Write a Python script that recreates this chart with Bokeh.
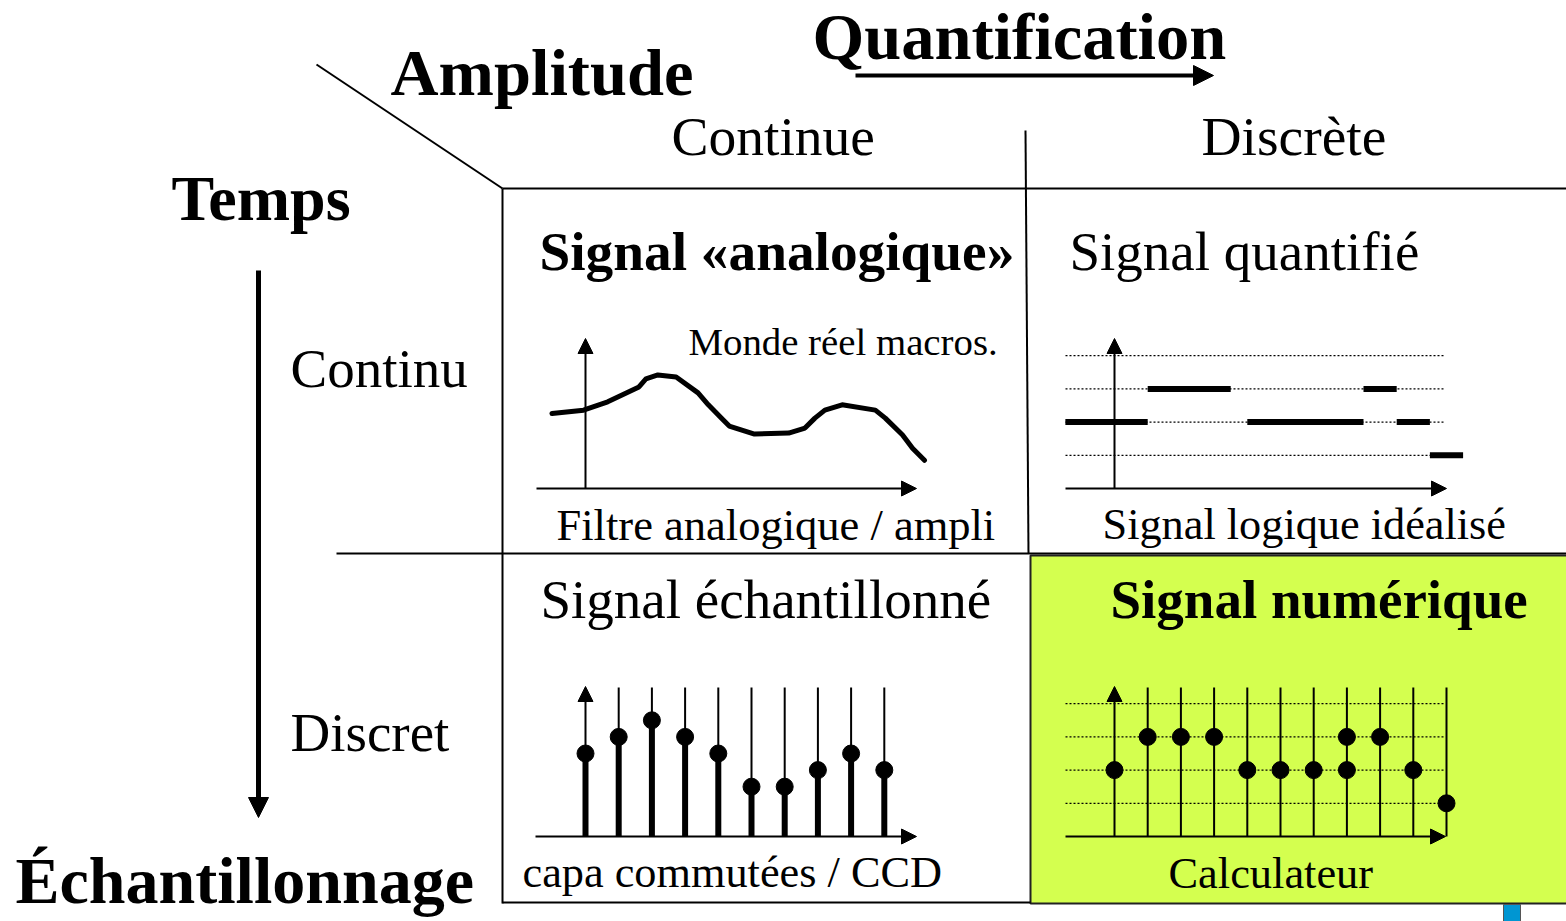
from bokeh.plotting import figure
from bokeh.models import Range1d, Arrow, NormalHead
from bokeh.core.properties import value
from bokeh.embed import file_html
from bokeh.resources import INLINE

# ---------------- data (panel-local units: 1 unit = one sample step) ----------------
# analog signal (continuous time, continuous amplitude)
analog_t = [-1.01, -0.06, 0.67, 1.61, 1.82, 2.18, 2.73, 3.39, 3.70, 4.09, 4.33, 5.09,
            6.12, 6.61, 6.91, 7.21, 7.73, 8.73, 9.03, 9.55, 9.85, 10.21]
analog_v = [2.26, 2.36, 2.61, 3.06, 3.30, 3.42, 3.36, 2.88, 2.52, 2.12, 1.88, 1.64,
            1.67, 1.82, 2.12, 2.36, 2.52, 2.36, 2.12, 1.61, 1.21, 0.85]

# quantified signal (continuous time, discrete amplitude)
quant_start = [-1.48, 1.0, 4.0, 7.5, 8.5, 9.5]
quant_end = [1.0, 3.5, 7.5, 8.5, 9.5, 10.5]
quant_level = [2, 3, 2, 3, 2, 1]
levels = [1, 2, 3, 4]

# sampled signal (discrete time, continuous amplitude)
samp_t = [0, 1, 2, 3, 4, 5, 6, 7, 8, 9]
samp_v = [2.5, 3.0, 3.5, 3.0, 2.5, 1.5, 1.5, 2.0, 2.5, 2.0]

# numeric signal (discrete time, discrete amplitude)
num_lines_t = [0, 1, 2, 3, 4, 5, 6, 7, 8, 9, 10]
num_t = [0, 1, 2, 3, 4, 5, 6, 7, 7, 8, 9, 10]
num_level = [2, 3, 3, 3, 2, 2, 2, 3, 2, 3, 2, 1]

# texts
title_q = "Quantification"
title_a = "Amplitude"
title_t = "Temps"
title_e = "Échantillonnage"
col_labels = ["Continue", "Discrète"]
row_labels = ["Continu", "Discret"]
cell_titles = ["Signal «analogique»", "Signal quantifié", "Signal échantillonné", "Signal numérique"]
cell_notes = ["Filtre analogique / ampli", "Signal logique idéalisé", "capa commutées / CCD", "Calculateur"]
note_real = "Monde réel macros."

# ---------------- layout ----------------
UNIT = 33.2
FONT = value("Liberation Serif")
W, H = 1566, 921

p = figure(width=W, height=H, x_range=Range1d(0, W), y_range=Range1d(H, 0),
           output_backend="svg", toolbar_location=None, x_axis_location=None,
           y_axis_location=None, min_border=0, outline_line_color=None,
           background_fill_color="white", border_fill_color="white")
p.grid.visible = False


def X(x0, t):
    return [x0 + v * UNIT for v in t]


def Y(y0, v):
    return [y0 - a * UNIT for a in v]


def txt(x, y, s, size, bold=False, align="left"):
    # y is the wanted baseline; compensate the renderer's baseline offset
    p.text(x=[x], y=[y - 0.35 * size], text=[s], text_font=FONT,
           text_font_size=value(f"{size}px"),
           text_font_style="bold" if bold else "normal", text_baseline="alphabetic",
           text_align=align, text_color="black")


def arrow(x0, y0, x1, y1, w=2, size=15):
    p.add_layout(Arrow(end=NormalHead(size=size, fill_color="black", line_color="black", line_width=1),
                       x_start=x0, y_start=y0, x_end=x1, y_end=y1, line_width=w, line_color="black"))


# green cell
p.quad(left=[1030], right=[1570], top=[555], bottom=[903], fill_color="#d4ff4f",
       line_color="#222222", line_width=2)
# blue stub
p.quad(left=[1503], right=[1520], top=[904], bottom=[925], fill_color="#0096d2",
       line_color="#555555", line_width=1)

# grid lines of the table
p.segment(x0=[316, 502, 502, 1025, 336, 502], y0=[64, 188, 188, 130, 553, 902],
          x1=[502, 1570, 502, 1028, 1570, 1030], y1=[188, 188, 903, 553, 553, 902],
          line_color="black", line_width=2)

# headers
txt(812, 59, title_q, 66.5, bold=True)
arrow(855, 75, 1213, 75, w=4, size=20)
txt(390, 95, title_a, 66.5, bold=True)
txt(671, 155, col_labels[0], 55.5)
txt(1201, 155, col_labels[1], 55.5)
txt(171, 220, title_t, 64, bold=True)
arrow(258, 270, 258, 817, w=5, size=20)
txt(290, 387, row_labels[0], 55)
txt(290, 751, row_labels[1], 55)
txt(15, 903, title_e, 66, bold=True)

# cell titles / notes
txt(539, 270, cell_titles[0], 55.3, bold=True)
txt(1069, 270, cell_titles[1], 55)
txt(540, 618, cell_titles[2], 55)
txt(1110, 618, cell_titles[3], 55, bold=True)
txt(556, 540, cell_notes[0], 44.5)
txt(1102, 540, cell_notes[1], 44.3)
txt(522, 888, cell_notes[2], 44.3)
txt(1168, 888, cell_notes[3], 44.4)
txt(688, 355, note_real, 38.8)

# ---- analog panel (origin 585, 488)
ax0, ay0 = 585, 488
arrow(536, ay0, 916, ay0)
arrow(ax0, ay0, ax0, 338)
p.line(X(ax0, analog_t), Y(ay0, analog_v), line_width=5, line_color="black",
       line_join="round", line_cap="round")

# ---- quantified panel (origin 1114, 488)
qx0, qy0 = 1114, 488
p.segment(x0=[1065] * 4, x1=[1443] * 4, y0=Y(qy0, levels), y1=Y(qy0, levels),
          line_color="black", line_width=1.3, line_dash="2 2")
arrow(1065, qy0, 1446, qy0)
arrow(qx0, qy0, qx0, 338)
p.segment(x0=X(qx0, quant_start), x1=X(qx0, quant_end),
          y0=Y(qy0, quant_level), y1=Y(qy0, quant_level),
          line_color="black", line_width=6)

# ---- sampled panel (origin 585, 836)
sx0, sy0 = 585, 836
arrow(535, sy0, 916, sy0)
arrow(sx0, sy0, sx0, 686)
sx = X(sx0, samp_t)
p.segment(x0=sx[1:], x1=sx[1:], y0=[687] * (len(sx) - 1), y1=[sy0] * (len(sx) - 1),
          line_color="black", line_width=2)
p.segment(x0=sx, x1=sx, y0=Y(sy0, samp_v), y1=[sy0] * len(sx),
          line_color="black", line_width=6)
p.scatter(sx, Y(sy0, samp_v), size=17, fill_color="black", line_color="black")

# ---- numeric panel (origin 1114, 836)
nx0, ny0 = 1114, 836
p.segment(x0=[1065] * 4, x1=[1443] * 4, y0=Y(ny0, levels), y1=Y(ny0, levels),
          line_color="black", line_width=1.3, line_dash="2 2")
nlx = X(nx0, num_lines_t)
p.segment(x0=nlx[1:], x1=nlx[1:], y0=[687] * (len(nlx) - 1), y1=[ny0] * (len(nlx) - 1),
          line_color="black", line_width=2)
arrow(1065, ny0, 1445, ny0)
arrow(nx0, ny0, nx0, 686)
p.scatter(X(nx0, num_t), Y(ny0, num_level), size=17, fill_color="black", line_color="black")

open("out.html", "w").write(file_html(p, INLINE))
